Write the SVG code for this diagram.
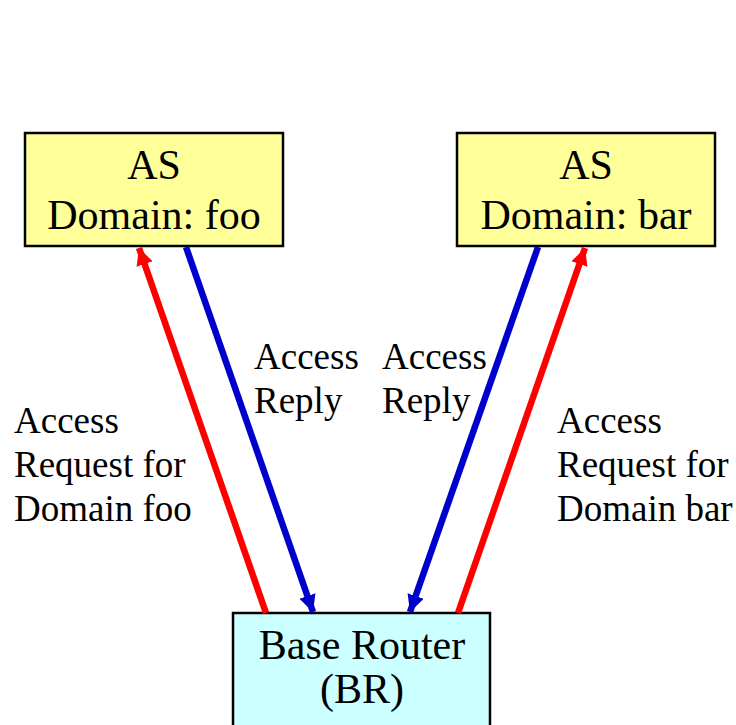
<svg xmlns="http://www.w3.org/2000/svg" width="736" height="725" viewBox="0 0 736 725">
  <style>
    .box { stroke: #000; stroke-width: 2.5; }
    .as { fill: #FFFF99; }
    .br { fill: #CCFFFF; }
    .nodetext { font-family: "Liberation Serif", "Times New Roman", serif; font-size: 42px; fill: #000; text-anchor: middle; }
    .label { font-family: "Liberation Serif", "Times New Roman", serif; font-size: 37px; fill: #000; }
    .req { stroke: #FF0000; stroke-width: 6.5; fill: none; }
    .rep { stroke: #0000CC; stroke-width: 6.5; fill: none; }
  </style>
  <defs>
    <marker id="headRed" markerUnits="userSpaceOnUse" markerWidth="20" markerHeight="20" refX="17" refY="8.5" orient="auto">
      <path d="M0,0 L17,8.5 L0,17 Z" fill="#FF0000"/>
    </marker>
    <marker id="headBlue" markerUnits="userSpaceOnUse" markerWidth="20" markerHeight="20" refX="17" refY="8.5" orient="auto">
      <path d="M0,0 L17,8.5 L0,17 Z" fill="#0000CC"/>
    </marker>
  </defs>

  <rect width="736" height="725" fill="#FFFFFF"/>

  <g id="as-foo">
    <rect class="box as" x="25" y="133" width="258" height="113"/>
    <text class="nodetext" x="154" y="179">AS</text>
    <text class="nodetext" x="154" y="229">Domain: foo</text>
  </g>

  <g id="as-bar">
    <rect class="box as" x="457" y="133" width="258" height="113"/>
    <text class="nodetext" x="586" y="179">AS</text>
    <text class="nodetext" x="586" y="229">Domain: bar</text>
  </g>

  <g id="base-router">
    <rect class="box br" x="233" y="613" width="257" height="120"/>
    <text class="nodetext" x="362" y="659">Base Router</text>
    <text class="nodetext" x="362" y="703">(BR)</text>
  </g>

  <g id="connectors">
    <line class="req" x1="266" y1="613" x2="139" y2="248" marker-end="url(#headRed)"/>
    <line class="rep" x1="186" y1="247" x2="313" y2="612" marker-end="url(#headBlue)"/>
    <line class="rep" x1="538" y1="247" x2="410" y2="612" marker-end="url(#headBlue)"/>
    <line class="req" x1="458" y1="613" x2="585" y2="248" marker-end="url(#headRed)"/>
  </g>

  <g id="labels">
    <text class="label" x="14" y="433">Access</text>
    <text class="label" x="14" y="477">Request for</text>
    <text class="label" x="14" y="521">Domain foo</text>

    <text class="label" x="254" y="369">Access</text>
    <text class="label" x="254" y="413">Reply</text>

    <text class="label" x="382" y="369">Access</text>
    <text class="label" x="382" y="413">Reply</text>

    <text class="label" x="557" y="433">Access</text>
    <text class="label" x="557" y="477">Request for</text>
    <text class="label" x="557" y="521">Domain bar</text>
  </g>
</svg>
